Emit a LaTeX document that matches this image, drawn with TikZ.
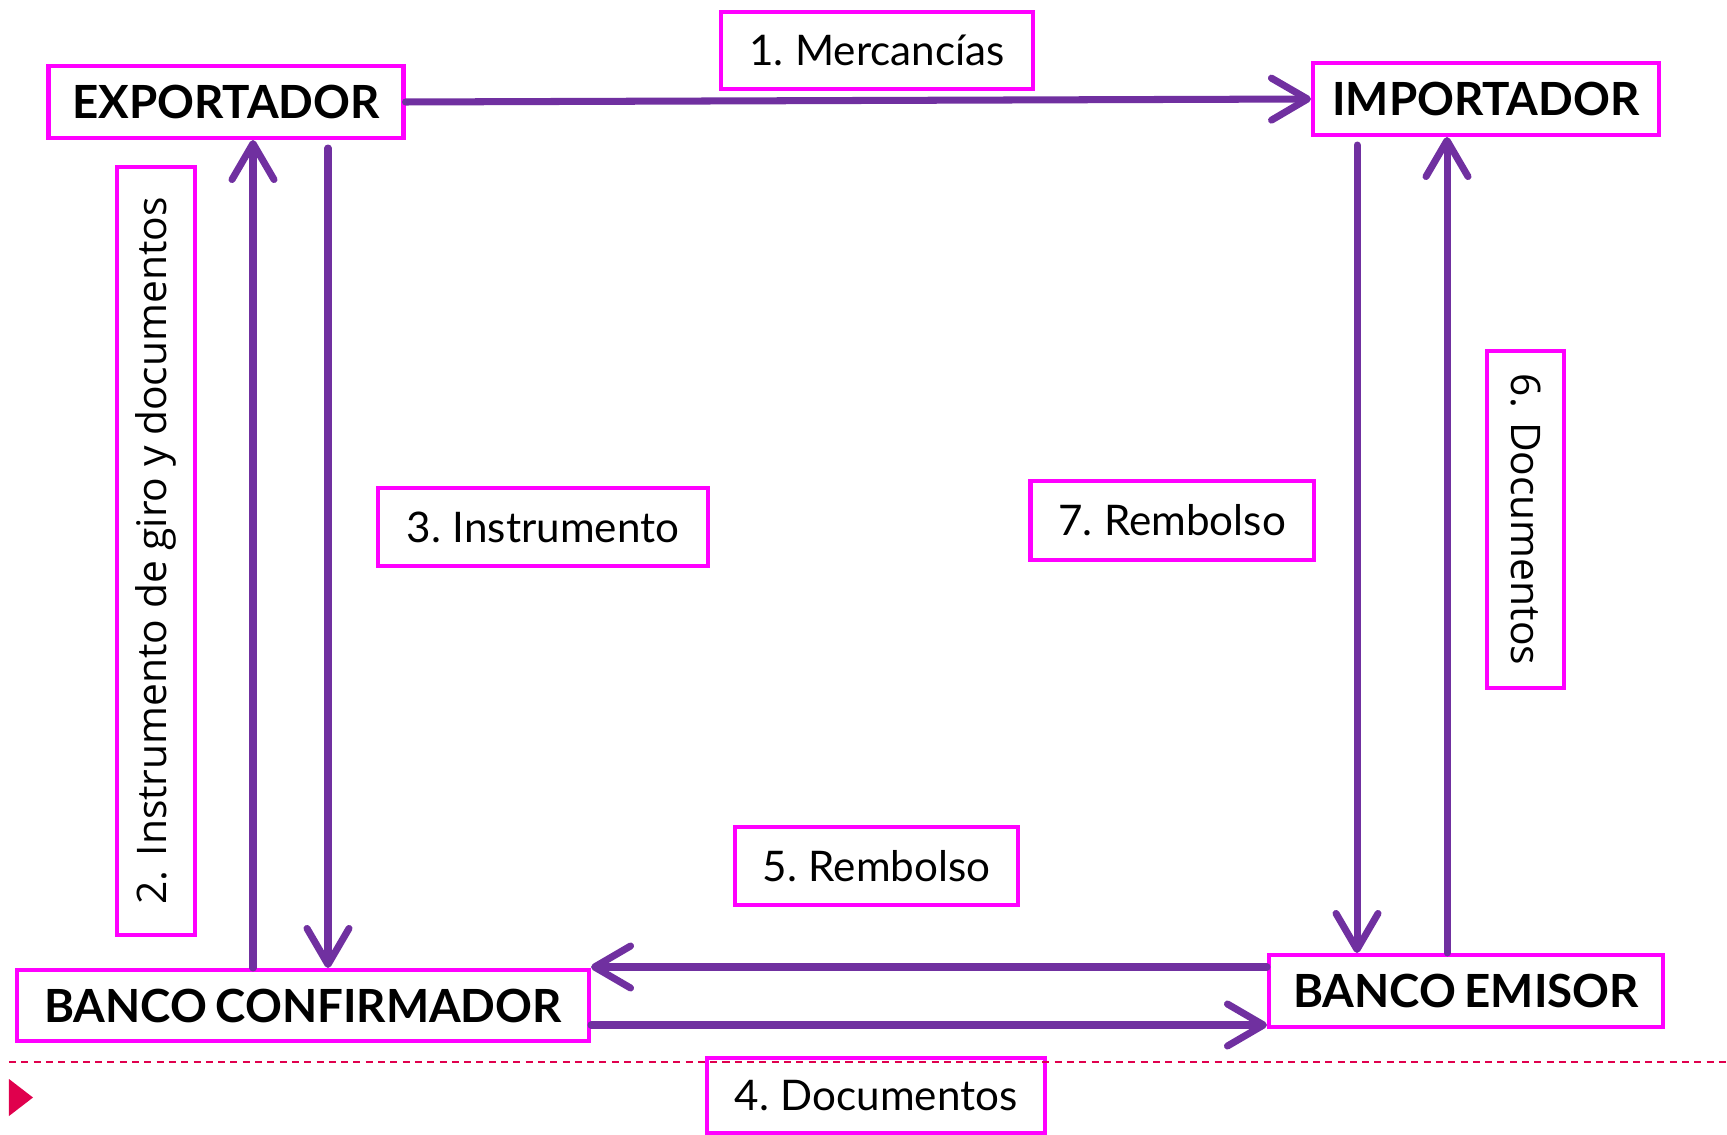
\documentclass[tikz,border=0pt]{standalone}
\usepackage{fontspec}
\setmainfont{Lato}[WordSpace=0.75]
\newfontfamily\sidefont{Open Sans}
\usepackage{tikz}
\usetikzlibrary{arrows.meta}
\definecolor{frame}{HTML}{FF00FF}
\definecolor{flowc}{HTML}{7030A0}
\definecolor{rule}{HTML}{E0004D}
\tikzset{
  party/.style={draw=frame, line width=1.15pt, inner sep=0pt, font=\fontsize{13}{15}\selectfont\bfseries},
  step label/.style={draw=frame, line width=1.15pt, inner sep=0pt, font=\fontsize{12}{14}\selectfont},
  side label/.style={draw=frame, line width=1.15pt, inner sep=0pt, font=\sidefont\fontsize{11.6}{14}\selectfont},
  flow/.style={draw=flowc, line width=2pt, line cap=round,
    -{Straight Barb[length=3.6mm, width=4.2mm, round]}}
}

\begin{document}
\begin{tikzpicture}
  \useasboundingbox (0,0) rectangle (17.27,-11.35);

  % the four parties
  \node[party, minimum width=3.55cm, minimum height=0.72cm] (exp) at (2.26,-1.02) {EXPORTADOR};
  \node[party, minimum width=3.46cm, minimum height=0.72cm] (imp) at (14.86,-0.99) {IMPORTADOR};
  \node[party, minimum width=5.72cm, minimum height=0.71cm] (bconf) at (3.03,-10.055) {BANCO CONFIRMADOR};
  \node[party, minimum width=3.94cm, minimum height=0.72cm] (bemi) at (14.66,-9.91) {BANCO EMISOR};

  % step labels
  \node[step label, minimum width=3.12cm, minimum height=0.77cm] (merc) at (8.77,-0.505) {1. Mercancías};
  \node[side label, rotate=90, minimum width=7.68cm, minimum height=0.78cm] (giro) at (1.56,-5.51) {2. Instrumento de giro y documentos};
  \node[step label, minimum width=3.30cm, minimum height=0.78cm] (instr) at (5.43,-5.27) {3. Instrumento};
  \node[step label, minimum width=3.38cm, minimum height=0.75cm] (docs) at (8.76,-10.955) {4. Documentos};
  \node[step label, minimum width=2.83cm, minimum height=0.78cm] (remb) at (8.765,-8.66) {5. Rembolso};
  \node[side label, rotate=-90, minimum width=3.37cm, minimum height=0.77cm] (docsb) at (15.255,-5.195) {6. Documentos};
  \node[step label, minimum width=2.83cm, minimum height=0.79cm] (rembb) at (11.72,-5.205) {7. Rembolso};

  % flows
  \draw[flow] (exp.east) -- (imp.west);
  \draw[flow] (bconf.north -| 2.53,0) -- (exp.south -| 2.53,0);
  \draw[flow, shorten <=0.08cm] (exp.south -| 3.28,0) -- (bconf.north -| 3.28,0);
  \draw[flow] (bconf.east |- 0,-10.25) -- (bemi.west |- 0,-10.25);
  \draw[flow] (bemi.west |- 0,-9.67) -- (bconf.east |- 0,-9.67);
  \draw[flow] (bemi.north -| 14.47,0) -- (imp.south -| 14.47,0);
  \draw[flow, shorten <=0.08cm] (imp.south -| 13.57,0) -- (bemi.north -| 13.57,0);

  % slide footer
  \draw[rule, line width=0.6pt, dash pattern=on 2pt off 1.5pt] (0.09,-10.62) -- (17.27,-10.62);
  \fill[rule] (0.09,-10.79) -- (0.33,-10.975) -- (0.09,-11.16) -- cycle;
\end{tikzpicture}
\end{document}
